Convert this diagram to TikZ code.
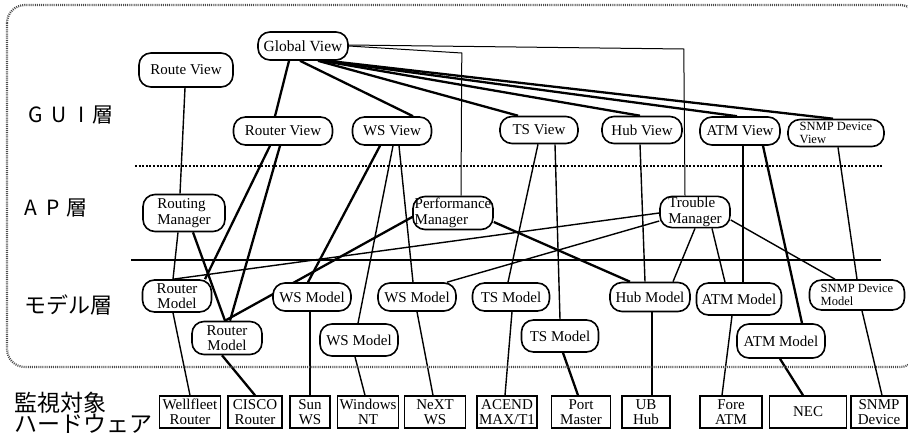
\documentclass[tikz,border=0pt]{standalone}
\usepackage{fontspec}
\setmainfont{Liberation Serif}
\newfontfamily\jpfont{Noto Sans CJK JP}
\pgfdeclarelayer{bg}
\pgfsetlayers{bg,main}

\begin{document}
\begin{tikzpicture}[
  x=1pt, y=-1pt,
  font=\fontsize{15}{15.5}\selectfont,
  view/.style={draw, line width=1.6pt, rounded corners=12pt, fill=white, inner sep=1pt, align=center},
  mgr/.style={view, align=left},
  small/.style={font=\fontsize{12.5}{13}\selectfont},
  hw/.style={draw, line width=1.4pt, fill=white, inner sep=1pt, align=center, minimum height=32pt},
  layer/.style={anchor=west, inner sep=0pt, font=\jpfont\fontsize{21}{21}\selectfont},
  frame/.style={line width=2.2pt, black!70, dash pattern=on 1pt off 1.1pt},
  link/.style={line width=1.4pt},
  heavy/.style={line width=2.3pt}
]
\useasboundingbox (0,0) rectangle (908,437);

\draw[frame, rounded corners=18pt] (7,5) rectangle (918,367);

\node[layer] (guil) at (28,115) {G\hspace{9pt}U\hspace{12pt}I\hspace{8pt}層};
\node[layer] (apl) at (24,208) {A\hspace{10pt}P\hspace{6pt}層};
\node[layer, font=\jpfont\fontsize{22}{22}\selectfont] (modell) at (24,305) {モデル層};
\node[layer, align=left, font=\jpfont\fontsize{23}{21}\selectfont] (hwl) at (14,413) {監視対象\\ハードウェア};

\node[view, minimum width=90pt, minimum height=28pt, font=\fontsize{15.5}{16}\selectfont] (gv) at (303,46) {Global View};
\node[view, minimum width=94pt, minimum height=34pt] (routev) at (186,70) {Route View};
\node[view, minimum width=99pt, minimum height=28pt] (routerv) at (283,131) {Router View};
\node[view, minimum width=79pt, minimum height=28pt] (wsv) at (392,131) {WS View};
\node[view, minimum width=78pt, minimum height=27pt] (tsv) at (539,130) {TS View};
\node[view, minimum width=80pt, minimum height=27pt] (hubv) at (642,130) {Hub View};
\node[view, minimum width=80pt, minimum height=28pt] (atmv) at (740,131) {ATM View};
\node[mgr, small, minimum width=96pt, minimum height=27pt] (snmpv) at (836,133) {SNMP Device\\View};

\node[mgr, minimum width=82pt, minimum height=37pt] (routingm) at (184,213) {Routing\\Manager};
\node[mgr, minimum width=80pt, minimum height=33pt] (perfm) at (453,213) {Performance\\Manager};
\node[mgr, minimum width=70pt, minimum height=30pt] (troublem) at (695,212) {Trouble\\Manager};

\node[view, minimum width=69pt, minimum height=32pt] (rtm1) at (177,296) {Router\\Model};
\node[view, minimum width=78pt, minimum height=28pt] (wsm1) at (312,297) {WS Model};
\node[view, minimum width=78pt, minimum height=28pt] (wsm2) at (417,297) {WS Model};
\node[view, minimum width=77pt, minimum height=28pt] (tsm1) at (511,297) {TS Model};
\node[view, minimum width=80pt, minimum height=29pt] (hubm) at (650,297) {Hub Model};
\node[view, minimum width=85pt, minimum height=32pt] (atmm1) at (739,299) {ATM Model};
\node[mgr, small, minimum width=95pt, minimum height=30pt] (snmpm) at (857,295) {SNMP Device\\Model};
\node[view, minimum width=70pt, minimum height=33pt] (rtm2) at (227,338) {Router\\Model};
\node[view, minimum width=78pt, minimum height=32pt] (wsm3) at (359,340) {WS Model};
\node[view, minimum width=77pt, minimum height=32pt] (tsm2) at (560,336) {TS Model};
\node[view, minimum width=88pt, minimum height=34pt] (atmm2) at (781,341) {ATM Model};

\node[hw, minimum width=61pt] (wellfleet) at (190,412) {Wellfleet\\Router};
\node[hw, minimum width=54pt] (cisco) at (255,412) {CISCO\\Router};
\node[hw, minimum width=40pt] (sunws) at (310,412) {Sun\\WS};
\node[hw, minimum width=61pt] (winnt) at (368,412) {Windows\\NT};
\node[hw, minimum width=61pt] (nextws) at (435,412) {NeXT\\WS};
\node[hw, minimum width=60pt] (acend) at (507,412) {ACEND\\MAX/T1};
\node[hw, minimum width=59pt] (portm) at (581,412) {Port\\Master};
\node[hw, minimum width=48pt] (ubhub) at (646,412) {UB\\Hub};
\node[hw, minimum width=62pt] (fore) at (731,412) {Fore\\ATM};
\node[hw, minimum width=77pt] (nec) at (808,412) {NEC};
\node[hw, minimum width=56pt] (snmpdev) at (879,412) {SNMP\\Device};

\begin{pgfonlayer}{bg}
\draw[line width=1.4pt, dash pattern=on 2pt off 1.6pt] (135,166) -- (883,166);
\draw[line width=1.3pt] (131,260) -- (881,260);

\draw[heavy] ([xshift=-14pt]gv.south) -- ([xshift=-8pt]routerv.north);
\draw[heavy] ([xshift=-3pt]gv.south) -- ([xshift=21pt]wsv.north);
\draw[heavy] ([xshift=15pt]gv.south) -- ([xshift=-21pt]tsv.north);
\draw[heavy] ([xshift=19pt]gv.south) -- ([xshift=-2pt]hubv.north);
\draw[heavy] ([xshift=22pt]gv.south) -- ([xshift=-3pt]atmv.north);
\draw[heavy] ([xshift=25pt]gv.south) -- ([xshift=-3pt]snmpv.north);
\draw[line width=1pt] (gv.east) -- ++(113,7) -- ([xshift=8pt]perfm.north);
\draw[line width=1pt] ([yshift=1pt]gv.east) -- ++(335,4) -- ([xshift=-10pt]troublem.north);

\draw[link] ([xshift=-1pt]routev.south) -- ([xshift=-4pt]routingm.north);
\draw[heavy] ([xshift=-13pt]routerv.south) -- ([xshift=28pt]rtm1.north);
\draw[heavy] ([xshift=-3pt]routerv.south) -- ([xshift=3pt]rtm2.north);
\draw[link] ([xshift=-6pt]routingm.south) -- ([xshift=-4pt]rtm1.north);
\draw[heavy] ([xshift=9pt]routingm.south) -- ([xshift=-2pt]rtm2.north);
\draw[heavy] ([xshift=-12pt]wsv.south) -- ([xshift=-4pt]wsm1.north);
\draw[link] ([xshift=1pt]wsv.south) -- ([xshift=-1pt]wsm3.north);
\draw[link] ([xshift=7pt]wsv.south) -- ([xshift=-4pt]wsm2.north);
\draw[heavy] ([yshift=-4pt]perfm.west) -- ([xshift=-2pt]rtm2.north);
\draw[heavy] ([yshift=-9pt]perfm.east) -- ([xshift=-20pt]hubm.north);
\draw[link] ([yshift=-1pt]troublem.west) -- ([xshift=-4pt]rtm1.north);
\draw[link] ([yshift=-9pt]troublem.west) -- ([xshift=30pt]wsm2.north);
\draw[link] (troublem.south) -- ([xshift=23pt]hubm.north);
\draw[link] ([xshift=17pt]troublem.south) -- ([xshift=-14pt]atmm1.north);
\draw[link] ([yshift=-8pt]troublem.east) -- ([xshift=-22pt]snmpm.north);
\draw[link] ([xshift=-1pt]tsv.south) -- ([xshift=-3pt]tsm1.north);
\draw[link] ([xshift=16pt]tsv.south) -- (tsm2.north);
\draw[link] ([xshift=-2pt]hubv.south) -- ([xshift=-5pt]hubm.north);
\draw[link] ([xshift=3pt]atmv.south) -- ([xshift=4pt]atmm1.north);
\draw[heavy] ([xshift=23pt]atmv.south) -- ([xshift=21pt]atmm2.north);
\draw[link] ([xshift=2pt]snmpv.south) -- (snmpm.north);

\draw[link] ([xshift=-4pt]rtm1.south) -- (wellfleet.north);
\draw[heavy] ([xshift=-5pt]rtm2.south) -- (cisco.north);
\draw[link] ([xshift=-2pt]wsm1.south) -- (sunws.north);
\draw[link] ([xshift=-4pt]wsm3.south) -- ([xshift=-3pt]winnt.north);
\draw[link] (wsm2.south) -- ([xshift=-2pt]nextws.north);
\draw[link] ([xshift=1pt]tsm1.south) -- ([xshift=-2pt]acend.north);
\draw[heavy] ([xshift=3pt]tsm2.south) -- ([xshift=-3pt]portm.north);
\draw[link] ([xshift=2pt]hubm.south) -- ([xshift=6pt]ubhub.north);
\draw[link] ([xshift=-7pt]atmm1.south) -- ([xshift=-9pt]fore.north);
\draw[heavy] ([xshift=-1pt]atmm2.south) -- ([xshift=-5pt]nec.north);
\draw[link] ([xshift=5pt]snmpm.south) -- ([xshift=3pt]snmpdev.north);
\end{pgfonlayer}
\end{tikzpicture}
\end{document}
